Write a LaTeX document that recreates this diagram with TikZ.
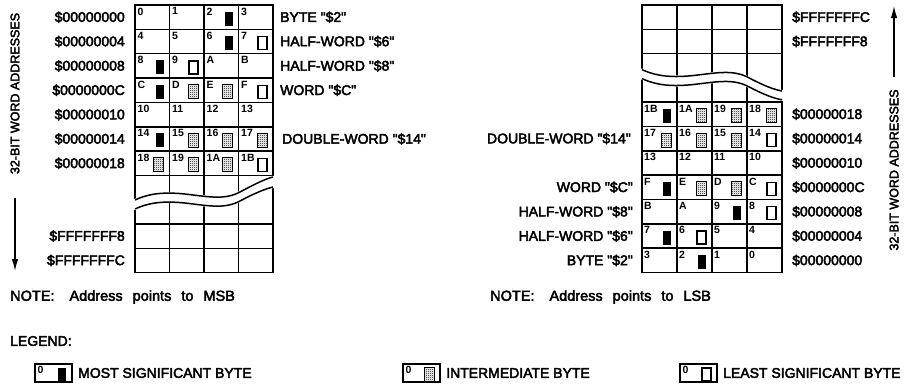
\documentclass[tikz,border=0pt]{standalone}
\usepackage{fontspec}
\setmainfont{Liberation Sans}
\newfontfamily\hv{Liberation Sans}[FakeBold=3]
\usetikzlibrary{patterns,arrows.meta}
\pgfdeclarepatternformonly{finecheck}{\pgfpointorigin}{\pgfpoint{2pt}{2pt}}{\pgfpoint{2pt}{2pt}}{%
  \pgfpathrectangle{\pgfpointorigin}{\pgfpoint{1pt}{1pt}}%
  \pgfpathrectangle{\pgfpoint{1pt}{1pt}}{\pgfpoint{1pt}{1pt}}%
  \pgfusepath{fill}}
\newcommand\wsp{\hspace{10pt}}
\begin{document}
\begin{tikzpicture}[x=1pt,y=-1pt,
  lbl/.style={font=\hv\fontsize{14}{15}\selectfont, inner sep=0pt},
  notelbl/.style={font=\hv\fontsize{14.5}{15}\selectfont, inner sep=0pt},
  vlbl/.style={font=\hv\fontsize{12.5}{13}\selectfont, inner sep=0pt, rotate=90},
  num/.style={font=\fontsize{10.5}{11}\selectfont\bfseries, inner sep=0pt, anchor=north west},
  mkm/.style={fill=black, minimum width=8pt, minimum height=14pt, inner sep=0pt, anchor=east},
  mki/.style={draw=black, line width=1pt, pattern=finecheck, minimum width=10pt, minimum height=14pt, inner sep=0pt, anchor=east},
  mkl/.style={draw=black, line width=1.2pt, fill=white, minimum width=9pt, minimum height=13pt, inner sep=0pt, anchor=east},
  gridline/.style={line width=1.5pt, line cap=rect},
  wave/.style={line width=1.5pt},
  band/.style={fill=white, draw=white, line width=2.2pt},
  arr/.style={line width=1.3pt, -{Latex[length=12pt,width=6.5pt]}},
]
\useasboundingbox (0,0) rectangle (905,389);

% ---------- left grid ----------
\foreach \i in {0,...,7} \draw[gridline] (135,{5+\i*24.36}) -- (273,{5+\i*24.36});
\foreach \yy in {223.9,248.26,272.6} \draw[gridline] (135,\yy) -- (273,\yy);
\foreach \xx in {135,169.5,204,238.5,273} \draw[gridline] (\xx,5) -- (\xx,272.6);
\fill[band] (133,200) -- (135,200) .. controls (150,193) and (165,192) .. (185,194)
  .. controls (210,197) and (225,200) .. (240,192) .. controls (255,184) and (265,179) .. (273,177)
  -- (275,177) -- (275,187) -- (273,187)
  .. controls (265,189) and (255,193) .. (240,201) .. controls (225,209) and (210,206) .. (185,203)
  .. controls (165,201) and (150,202) .. (135,209) -- (133,209) -- cycle;
\draw[wave] (135,200) .. controls (150,193) and (165,192) .. (185,194)
  .. controls (210,197) and (225,200) .. (240,192) .. controls (255,184) and (265,179) .. (273,177);
\draw[wave] (135,209) .. controls (150,202) and (165,201) .. (185,203)
  .. controls (210,206) and (225,209) .. (240,201) .. controls (255,193) and (265,189) .. (273,187);

\foreach \a/\b/\c/\d [count=\i from 0] in {0/1/2/3,4/5/6/7,8/9/A/B,C/D/E/F,10/11/12/13,14/15/16/17,18/19/1A/1B}{
  \node[num] (ln-\i-0) at (137.5,{5+\i*24.36+2.5}) {\a};
  \node[num] (ln-\i-1) at (172,{5+\i*24.36+2.5}) {\b};
  \node[num] (ln-\i-2) at (206.5,{5+\i*24.36+2.5}) {\c};
  \node[num] (ln-\i-3) at (241,{5+\i*24.36+2.5}) {\d};
}
\foreach \c/\r/\t in {2/0/mkm,2/1/mkm,3/1/mkl,0/2/mkm,1/2/mkl,0/3/mkm,1/3/mki,2/3/mki,3/3/mkl,0/5/mkm,1/5/mki,2/5/mki,3/5/mki,0/6/mki,1/6/mki,2/6/mki,3/6/mkl}
  \node[\t] (lm-\c-\r) at ({135+(\c+1)*34.5-5.5},{5+(\r+0.5)*24.36+1.5}) {};

\foreach \t [count=\i from 0] in {00000000,00000004,00000008,0000000C,00000010,00000014,00000018}
  \node[lbl, anchor=east] (la-\i) at (125,{5+(\i+0.5)*24.36}) {\$\t};
\node[lbl, anchor=east] (la-f8) at (125,236.1) {\$FFFFFFF8};
\node[lbl, anchor=east] (la-fc) at (125,260.4) {\$FFFFFFFC};

\node[lbl, anchor=west] (lt-0) at (280,17.2) {BYTE "\$2"};
\node[lbl, anchor=west] (lt-1) at (280,41.5) {HALF-WORD "\$6"};
\node[lbl, anchor=west] (lt-2) at (280,65.9) {HALF-WORD "\$8"};
\node[lbl, anchor=west] (lt-3) at (280,90.3) {WORD "\$C"};
\node[lbl, anchor=west] (lt-5) at (282,139.0) {DOUBLE-WORD "\$14"};

\node[vlbl] (lv) at (15,93.5) {32-BIT WORD ADDRESSES};
\coordinate (lv1) at (15,198);
\coordinate (lv2) at (15,271);
\draw[arr] (lv1) -- (lv2);

% ---------- right grid ----------
\foreach \yy in {5,29.36,53.72} \draw[gridline] (642,\yy) -- (782,\yy);
\foreach \i in {0,...,7} \draw[gridline] (642,{102.08+\i*24.36}) -- (782,{102.08+\i*24.36});
\foreach \xx in {642,677,712,747,782} \draw[gridline] (\xx,5) -- (\xx,272.6);
\fill[band] (640,69.6) -- (642,69.6) .. controls (657.2,76.6) and (672.4,77.6) .. (692.7,75.6)
  .. controls (718.1,72.6) and (733.3,69.6) .. (748.5,77.6) .. controls (763.7,85.6) and (773.9,89.6) .. (782,91)
  -- (784,91) -- (784,99.8) -- (782,99.8)
  .. controls (773.9,98.4) and (763.7,94.6) .. (748.5,86.6) .. controls (733.3,78.6) and (718.1,81.6) .. (692.7,84.6)
  .. controls (672.4,86.6) and (657.2,85.6) .. (642,78.6) -- (640,78.6) -- cycle;
\draw[wave] (642,69.6) .. controls (657.2,76.6) and (672.4,77.6) .. (692.7,75.6)
  .. controls (718.1,72.6) and (733.3,69.6) .. (748.5,77.6) .. controls (763.7,85.6) and (773.9,89.6) .. (782,91);
\draw[wave] (642,78.6) .. controls (657.2,85.6) and (672.4,86.6) .. (692.7,84.6)
  .. controls (718.1,81.6) and (733.3,78.6) .. (748.5,86.6) .. controls (763.7,94.6) and (773.9,98.4) .. (782,99.8);

\foreach \a/\b/\c/\d [count=\k from 0] in {3/2/1/0,7/6/5/4,B/A/9/8,F/E/D/C,13/12/11/10,17/16/15/14,1B/1A/19/18}{
  \node[num] (rn-\k-0) at (644,{272.6-(\k+1)*24.36+2.5}) {\a};
  \node[num] (rn-\k-1) at (679,{272.6-(\k+1)*24.36+2.5}) {\b};
  \node[num] (rn-\k-2) at (714,{272.6-(\k+1)*24.36+2.5}) {\c};
  \node[num] (rn-\k-3) at (749,{272.6-(\k+1)*24.36+2.5}) {\d};
}
\foreach \c/\k/\t in {1/0/mkm,0/1/mkm,1/1/mkl,2/2/mkm,3/2/mkl,0/3/mkm,1/3/mki,2/3/mki,3/3/mkl,0/5/mki,1/5/mki,2/5/mki,3/5/mkl,0/6/mkm,1/6/mki,2/6/mki,3/6/mki}
  \node[\t] (rm-\c-\k) at ({642+(\c+1)*35-5.5},{272.6-(\k+0.5)*24.36+1.5}) {};

\foreach \t [count=\k from 0] in {00000000,00000004,00000008,0000000C,00000010,00000014,00000018}
  \node[lbl, anchor=west] (ra-\k) at (792,{272.6-(\k+0.5)*24.36}) {\$\t};
\node[lbl, anchor=west] (ra-fc) at (792,17.2) {\$FFFFFFFC};
\node[lbl, anchor=west] (ra-f8) at (792,41.5) {\$FFFFFFF8};

\node[lbl, anchor=east] (rt-0) at (633,260.4) {BYTE "\$2"};
\node[lbl, anchor=east] (rt-1) at (633,236.1) {HALF-WORD "\$6"};
\node[lbl, anchor=east] (rt-2) at (633,211.7) {HALF-WORD "\$8"};
\node[lbl, anchor=east] (rt-3) at (633,187.3) {WORD "\$C"};
\node[lbl, anchor=east] (rt-5) at (631,138.6) {DOUBLE-WORD "\$14"};

\node[vlbl] (rv) at (894,170) {32-BIT WORD ADDRESSES};
\coordinate (rv1) at (894,77);
\coordinate (rv2) at (894,6);
\draw[arr] (rv1) -- (rv2);

% ---------- notes and legend ----------
\node[notelbl, anchor=west] (note1) at (10,297) {NOTE:\hspace{15pt}Address\wsp points\wsp to\wsp MSB};
\node[notelbl, anchor=west] (note2) at (490,297) {NOTE:\hspace{15pt}Address\wsp points\wsp to\wsp LSB};
\node[lbl, anchor=west] (leg) at (10,341) {LEGEND:};

\draw[gridline] (35,364) rectangle (72,382);
\node[num] (g1n) at (37.5,366) {0};
\node[mkm] (g1m) at (66.5,374.5) {};
\node[lbl, anchor=west] (g1t) at (78,373) {MOST SIGNIFICANT BYTE};

\draw[gridline] (403,364) rectangle (440,382);
\node[num] (g2n) at (405.5,366) {0};
\node[mki] (g2m) at (434.5,374.5) {};
\node[lbl, anchor=west] (g2t) at (446,373) {INTERMEDIATE BYTE};

\draw[gridline] (680,364) rectangle (717,382);
\node[num] (g3n) at (682.5,366) {0};
\node[mkl] (g3m) at (711.5,374.5) {};
\node[lbl, anchor=west] (g3t) at (723,373) {LEAST SIGNIFICANT BYTE};
\end{tikzpicture}
\end{document}
